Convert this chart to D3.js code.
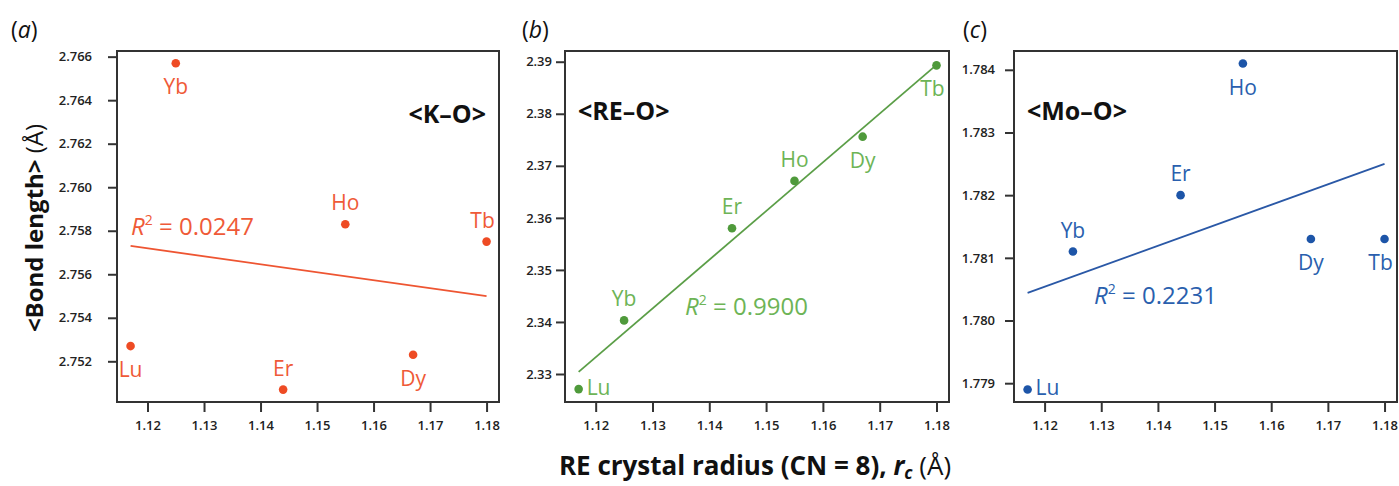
<!DOCTYPE html>
<html>
<head>
<meta charset="utf-8">
<script src="https://cdn.jsdelivr.net/npm/d3@7"></script>
<style>
  html, body { margin: 0; padding: 0; background: #fff; }
  svg { display: block; font-family: "Open Sans", "Noto Sans", sans-serif; }
</style>
</head>
<body>
<svg id="chart" width="1399" height="486"></svg>
<script>
// ---------------- data ----------------
const elements = ["Lu", "Yb", "Er", "Ho", "Dy", "Tb"];
const crystalRadius = [1.117, 1.125, 1.144, 1.155, 1.167, 1.180];
const koBond  = [2.7527, 2.7657, 2.7507, 2.7583, 2.7523, 2.7575];
const reoBond = [2.3271, 2.3403, 2.3580, 2.3671, 2.3756, 2.3893];
const mooBond = [1.7789, 1.7811, 1.7820, 1.7841, 1.7813, 1.7813];
// fitted line end values at first and last radius
const koFit  = [2.7573, 2.7550];
const reoFit = [2.3304, 2.3894];
const mooFit = [1.78044, 1.7825];
const r2Values = ["0.0247", "0.9900", "0.2231"];
const xTicks = [1.12, 1.13, 1.14, 1.15, 1.16, 1.17, 1.18];
const koTicks  = [2.752, 2.754, 2.756, 2.758, 2.760, 2.762, 2.764, 2.766];
const reoTicks = [2.33, 2.34, 2.35, 2.36, 2.37, 2.38, 2.39];
const mooTicks = [1.779, 1.780, 1.781, 1.782, 1.783, 1.784];
const bondNames = ["<K–O>", "<RE–O>", "<Mo–O>"];
const panelLetters = ["a", "b", "c"];

// ---------------- layout / style ----------------
const panels = [
  { values: koBond, fit: koFit, ticks: koTicks, fmt: d3.format(".3f"),
    box: { l: 117, t: 51, r: 499, b: 402 }, ydom: [2.75013, 2.76626],
    point: "#ee4b24", text: "#ef5a38", line: "#ee5532", tickPad: 16,
    place: ["below", "below", "above", "above", "below", "aboveL"],
    r2: { x: 131, y: 235 }, bond: { x: 486, y: 123, anchor: "end" },
    letter: { x: 11, y: 38 } },
  { values: reoBond, fit: reoFit, ticks: reoTicks, fmt: d3.format(".2f"),
    box: { l: 565, t: 51, r: 949, b: 402 }, ydom: [2.32462, 2.39206],
    point: "#4f9a3b", text: "#6db456", line: "#5b9e47", tickPad: 4,
    place: ["right", "above", "above", "above", "below", "belowL"],
    r2: { x: 685, y: 315 }, bond: { x: 578, y: 120, anchor: "start" },
    letter: { x: 522, y: 38 } },
  { values: mooBond, fit: mooFit, ticks: mooTicks, fmt: d3.format(".3f"),
    box: { l: 1014, t: 51, r: 1397, b: 402 }, ydom: [1.7787, 1.7843],
    point: "#1d55a8", text: "#2a5fae", line: "#2a58a6", tickPad: 10,
    place: ["right", "above", "above", "below", "below", "belowL"],
    r2: { x: 1094, y: 304 }, bond: { x: 1027, y: 120, anchor: "start" },
    letter: { x: 963, y: 38 } }
];
const xDomain = [1.1146, 1.1822];
const frameColor = "#333";

const svg = d3.select("#chart");

panels.forEach((p, i) => {
  const x = d3.scaleLinear().domain(xDomain).range([p.box.l, p.box.r]);
  const y = d3.scaleLinear().domain(p.ydom).range([p.box.b, p.box.t]);
  const g = svg.append("g");

  // axes
  const xAxis = d3.axisBottom(x).tickValues(xTicks).tickSize(10).tickPadding(5)
    .tickFormat(d3.format(".2f"));
  const gx = g.append("g").attr("transform", `translate(0,${p.box.b})`).call(xAxis);
  const yAxis = d3.axisLeft(y).tickValues(p.ticks).tickSize(9).tickPadding(p.tickPad)
    .tickFormat(p.fmt);
  const gy = g.append("g").attr("transform", `translate(${p.box.l},0)`).call(yAxis);
  [gx, gy].forEach(a => {
    a.select(".domain").remove();
    a.selectAll(".tick line").attr("stroke", frameColor).attr("stroke-width", 2);
    a.selectAll(".tick text").attr("fill", "#222").attr("font-size", 13)
      .attr("font-weight", 600).attr("font-family", "'Open Sans', sans-serif");
  });
  gx.selectAll(".tick text").attr("dy", "1.0em");

  // frame
  g.append("rect").attr("x", p.box.l).attr("y", p.box.t)
    .attr("width", p.box.r - p.box.l).attr("height", p.box.b - p.box.t)
    .attr("fill", "none").attr("stroke", frameColor).attr("stroke-width", 2);

  // fit line
  g.append("line")
    .attr("x1", x(crystalRadius[0])).attr("y1", y(p.fit[0]))
    .attr("x2", x(crystalRadius[crystalRadius.length - 1])).attr("y2", y(p.fit[1]))
    .attr("stroke", p.line).attr("stroke-width", 1.8);

  // points
  const pts = crystalRadius.map((r, k) => ({ r, v: p.values[k], name: elements[k], place: p.place[k] }));
  g.selectAll("circle").data(pts).join("circle")
    .attr("cx", d => x(d.r)).attr("cy", d => y(d.v)).attr("r", 4.3)
    .attr("fill", p.point);

  // point labels
  g.selectAll("text.lbl").data(pts).join("text").attr("class", "lbl")
    .attr("fill", p.text).attr("font-size", 21)
    .attr("x", d => {
      const cx = x(d.r);
      if (d.place === "right") return cx + 8;
      if (d.place === "aboveL" || d.place === "belowL") return cx - 4;
      return cx;
    })
    .attr("y", d => {
      const cy = y(d.v);
      if (d.place === "right") return cy + 6;
      if (d.place.startsWith("above")) return cy - 14;
      return cy + 31;
    })
    .attr("text-anchor", d => d.place === "right" ? "start" : "middle")
    .text(d => d.name);

  // R^2 label
  const r2 = g.append("text").attr("x", p.r2.x).attr("y", p.r2.y)
    .attr("fill", p.text).attr("font-size", 24);
  r2.append("tspan").attr("font-style", "italic").text("R");
  r2.append("tspan").attr("font-size", 14).attr("dy", -10).text("2");
  r2.append("tspan").attr("dy", 10).text(" = " + r2Values[i]);

  // bond label
  g.append("text").attr("x", p.bond.x).attr("y", p.bond.y)
    .attr("text-anchor", p.bond.anchor).attr("font-weight", 700)
    .attr("font-size", 25).attr("fill", "#111").text(bondNames[i]);

  // panel letter
  const L = g.append("text").attr("x", p.letter.x).attr("y", p.letter.y)
    .attr("font-size", 23).attr("fill", "#111");
  L.append("tspan").text("(");
  L.append("tspan").attr("font-style", "italic").text(panelLetters[i]);
  L.append("tspan").text(")");
});

// y-axis title
const yt = svg.append("text").attr("transform", "translate(43,228) rotate(-90)")
  .attr("text-anchor", "middle").attr("font-size", 24).attr("fill", "#111");
yt.append("tspan").attr("font-weight", 700).text("<Bond length>");
yt.append("tspan").text(" (Å)");

// x-axis title
const xt = svg.append("text").attr("x", 755).attr("y", 475)
  .attr("text-anchor", "middle").attr("font-size", 26).attr("fill", "#111");
xt.append("tspan").attr("font-weight", 700).text("RE crystal radius (CN = 8), ");
xt.append("tspan").attr("font-weight", 700).attr("font-style", "italic").text("r");
xt.append("tspan").attr("font-weight", 700).attr("font-style", "italic")
  .attr("font-size", 17).attr("dy", 4).text("c");
xt.append("tspan").attr("dy", -4).text(" (Å)");
</script>
</body>
</html>
